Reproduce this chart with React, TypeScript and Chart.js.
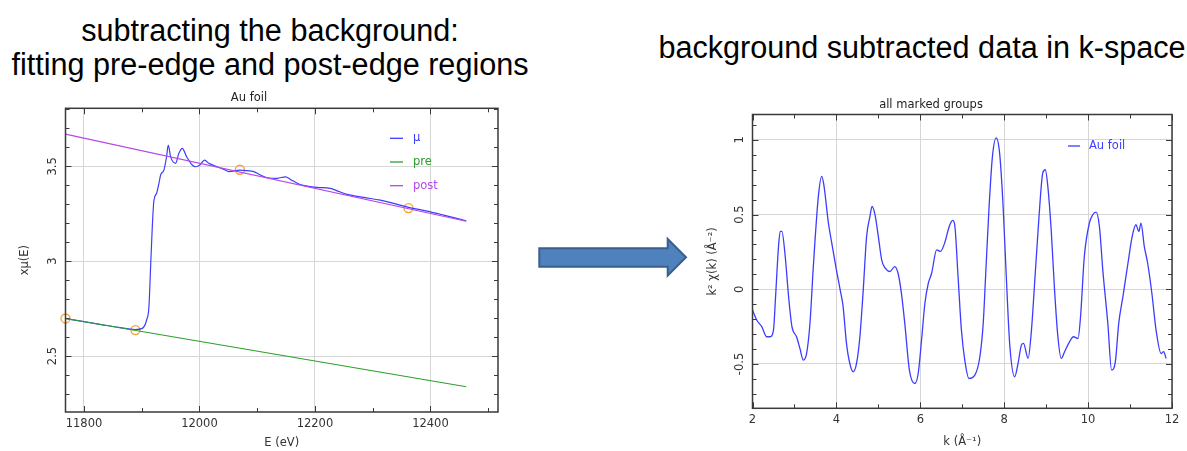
import React, { useEffect, useRef } from 'react';
import { Chart, registerables } from 'chart.js';

Chart.register(...registerables);

// ---------- Left chart data (mu(E) with pre/post-edge lines) ----------
const muE = [11768, 11800, 11830, 11860, 11889, 11901, 11908.5, 11912.5, 11915.4, 11918.3, 11921.1, 11925.8, 11929.8, 11932.7, 11938.4, 11943, 11946, 11950, 11958.6, 11964.4, 11970.2, 11977.7, 11987.5, 11993.3, 12000.7, 12008.8, 12016.3, 12030.8, 12042.3, 12051, 12070, 12082.7, 12094.1, 12105.7, 12117.3, 12134.6, 12149, 12157.6, 12172, 12186.5, 12203.8, 12226.8, 12238.4, 12255.7, 12284.5, 12313.3, 12336.3, 12362.3, 12394, 12422.8, 12462];
const muVal = [2.698, 2.681, 2.666, 2.651, 2.640, 2.646, 2.69, 2.76, 2.971, 3.18, 3.32, 3.358, 3.41, 3.454, 3.48, 3.55, 3.612, 3.551, 3.516, 3.569, 3.595, 3.551, 3.507, 3.498, 3.507, 3.533, 3.516, 3.498, 3.484, 3.472, 3.48, 3.477, 3.472, 3.454, 3.44, 3.437, 3.445, 3.431, 3.407, 3.396, 3.389, 3.384, 3.371, 3.352, 3.336, 3.322, 3.305, 3.284, 3.264, 3.243, 3.213];
const preE = [11768, 12462];
const preVal = [2.698, 2.338];
const postE = [11768, 12462];
const postVal = [3.670, 3.2105];
const markE = [11768, 11889, 12070, 12362];
const markVal = [2.698, 2.637, 3.482, 3.28];
const leftXTicks = { min: 11768, max: 12517, step: 200, minor: 100 };
const leftYTicks = { min: 2.205, max: 3.806, step: 0.5, minor: 0.1 };

// ---------- Right chart data (k^2 chi(k)) ----------
const kVals = [2.0, 2.1, 2.22, 2.34, 2.42, 2.5, 2.55, 2.62, 2.66, 2.7, 2.78, 2.86, 2.94, 3.05, 3.13, 3.21, 3.29, 3.37, 3.45, 3.57, 3.65, 3.7, 3.81, 3.89, 4.0, 4.09, 4.16, 4.24, 4.32, 4.4, 4.48, 4.56, 4.64, 4.72, 4.8, 4.85, 4.92, 5.0, 5.08, 5.2, 5.28, 5.39, 5.47, 5.55, 5.63, 5.74, 5.87, 5.95, 6.03, 6.11, 6.19, 6.27, 6.39, 6.48, 6.58, 6.69, 6.77, 6.82, 6.9, 6.98, 7.06, 7.16, 7.3, 7.42, 7.5, 7.56, 7.64, 7.72, 7.81, 7.89, 7.97, 8.05, 8.13, 8.25, 8.33, 8.41, 8.46, 8.57, 8.65, 8.72, 8.83, 8.92, 8.98, 9.04, 9.12, 9.2, 9.28, 9.36, 9.44, 9.56, 9.65, 9.76, 9.82, 9.91, 10.03, 10.11, 10.19, 10.27, 10.35, 10.47, 10.56, 10.65, 10.73, 10.83, 10.95, 11.05, 11.14, 11.21, 11.26, 11.34, 11.42, 11.52, 11.62, 11.74, 11.8, 11.86];
const chiVals = [-0.139, -0.206, -0.25, -0.318, -0.318, -0.273, -0.05, 0.286, 0.387, 0.387, 0.219, -0.049, -0.25, -0.318, -0.396, -0.474, -0.43, -0.228, 0.152, 0.622, 0.756, 0.70, 0.443, 0.309, 0.13, -0.004, -0.116, -0.362, -0.497, -0.553, -0.497, -0.318, -0.004, 0.353, 0.488, 0.555, 0.499, 0.353, 0.197, 0.13, 0.119, 0.152, 0.107, -0.027, -0.228, -0.541, -0.631, -0.564, -0.34, -0.094, 0.04, 0.107, 0.264, 0.253, 0.309, 0.42, 0.461, 0.432, 0.085, -0.273, -0.474, -0.597, -0.575, -0.452, -0.228, 0.107, 0.555, 0.89, 1.013, 0.913, 0.577, 0.085, -0.362, -0.586, -0.497, -0.374, -0.362, -0.463, -0.273, 0.018, 0.488, 0.779, 0.80, 0.689, 0.398, -0.004, -0.318, -0.463, -0.418, -0.351, -0.318, -0.329, -0.183, 0.219, 0.443, 0.499, 0.517, 0.42, 0.13, -0.228, -0.541, -0.485, -0.228, -0.049, 0.174, 0.353, 0.432, 0.387, 0.443, 0.286, 0.174, -0.027, -0.273, -0.43, -0.418, -0.463];
const rightXTicks = { min: 2, max: 12, step: 2, minor: 1 };
const rightYTicks = { min: -0.797, max: 1.17, step: 0.5, minor: 0.1 };

const FONT = 'DejaVu Sans';
const FS = 11.5;
const TXT = '#333';

const zip = (xs: number[], ys: number[]) => xs.map((x, i) => ({ x, y: ys[i] }));

function decorPlugin(xt: any, yt: any, legend: { items: { label: string; color: string }[]; fromRight: number; fromTop: number; textGap: number; lineLen: number; rowGap: number }) {
  return {
    id: 'decor',
    afterDraw(chart: any) {
      const { ctx, chartArea: a, scales } = chart;
      const xs = scales.x, ys = scales.y;
      ctx.save();
      ctx.strokeStyle = '#3a3a3a';
      ctx.lineWidth = 1;
      ctx.beginPath();
      const eps = 1e-6;
      const x0 = Math.ceil(xt.min / xt.minor - eps) * xt.minor;
      for (let v = x0; v <= xt.max + eps; v += xt.minor) {
        const isMajor = Math.abs(v / xt.step - Math.round(v / xt.step)) < 1e-6;
        const len = isMajor ? 6 : 4;
        const px = Math.round(xs.getPixelForValue(v)) + 0.5;
        ctx.moveTo(px, a.bottom); ctx.lineTo(px, a.bottom - len);
        ctx.moveTo(px, a.top); ctx.lineTo(px, a.top + len);
      }
      const y0 = Math.ceil(yt.min / yt.minor - eps) * yt.minor;
      for (let v = y0; v <= yt.max + eps; v += yt.minor) {
        const isMajor = Math.abs(v / yt.step - Math.round(v / yt.step)) < 1e-6;
        const len = isMajor ? 6 : 4;
        const py = Math.round(ys.getPixelForValue(v)) + 0.5;
        ctx.moveTo(a.left, py); ctx.lineTo(a.left + len, py);
        ctx.moveTo(a.right, py); ctx.lineTo(a.right - len, py);
      }
      ctx.stroke();
      ctx.lineWidth = 1.5;
      ctx.strokeRect(a.left, a.top, a.right - a.left, a.bottom - a.top);
      // inner legend
      ctx.font = `${FS}px "${FONT}"`;
      ctx.textBaseline = 'middle';
      ctx.textAlign = 'left';
      legend.items.forEach((it, i) => {
        const y = a.top + legend.fromTop + i * legend.rowGap;
        const lx = a.right - legend.fromRight;
        ctx.strokeStyle = it.color;
        ctx.lineWidth = 1.3;
        ctx.beginPath();
        ctx.moveTo(lx, y); ctx.lineTo(lx + legend.lineLen, y);
        ctx.stroke();
        ctx.fillStyle = it.color;
        ctx.fillText(it.label, lx + legend.textGap, y);
      });
      ctx.restore();
    },
  };
}

const fmt = (v: any) => String(Math.round(Number(v) * 1000) / 1000);

function LeftChart() {
  const ref = useRef<HTMLCanvasElement>(null);
  useEffect(() => {
    const blue = '#3c3cff', green = '#2ca02c', purple = '#b548e8';
    const chart = new Chart(ref.current!, {
      type: 'scatter',
      data: {
        datasets: [
          { label: 'pre', data: zip(preE, preVal), showLine: true, borderColor: green, borderWidth: 1.2, pointRadius: 0 },
          { label: 'post', data: zip(postE, postVal), showLine: true, borderColor: purple, borderWidth: 1.2, pointRadius: 0 },
          { label: 'μ', data: zip(muE, muVal), showLine: true, borderColor: blue, borderWidth: 1.2, pointRadius: 0, cubicInterpolationMode: 'monotone' },
          { label: 'markers', data: zip(markE, markVal), showLine: false, clip: false, pointRadius: 4.5, pointBorderColor: '#f4a22c', pointBackgroundColor: 'rgba(0,0,0,0)', pointBorderWidth: 1.3 },
        ],
      },
      options: {
        animation: false,
        responsive: false,
        devicePixelRatio: 1,
        layout: { padding: { left: 0, right: 7, top: 0, bottom: 0 } },
        plugins: {
          legend: { display: false },
          tooltip: { enabled: false },
          title: { display: true, text: 'Au foil', color: '#222', font: { family: FONT, size: FS, weight: 'normal' }, padding: { top: 3.1, bottom: 3.4 } },
        },
        scales: {
          x: {
            type: 'linear', min: leftXTicks.min, max: leftXTicks.max,
            afterFit: (s: any) => { s.height = 39; },
            border: { display: false },
            grid: { color: '#d6d6d6', drawTicks: false },
            ticks: { stepSize: leftXTicks.step, includeBounds: false, padding: 5.2, color: TXT, font: { family: FONT, size: FS }, maxRotation: 0, callback: fmt },
            title: { display: true, text: 'E (eV)', color: TXT, font: { family: FONT, size: FS }, padding: { top: 0, bottom: 0.6 } },
          },
          y: {
            type: 'linear', min: leftYTicks.min, max: leftYTicks.max,
            afterFit: (s: any) => { s.width = 65.5; },
            border: { display: false },
            grid: { color: '#d6d6d6', drawTicks: false },
            ticks: { stepSize: leftYTicks.step, includeBounds: false, padding: 3.0, minRotation: 90, maxRotation: 90, crossAlign: 'center', color: TXT, font: { family: FONT, size: FS }, callback: fmt },
            title: { display: true, text: 'xμ(E)', color: TXT, font: { family: FONT, size: FS }, padding: { top: 18.1, bottom: 0 } },
          },
        },
      } as any,
      plugins: [decorPlugin(leftXTicks, leftYTicks, {
        items: [{ label: 'μ', color: blue }, { label: 'pre', color: green }, { label: 'post', color: purple }],
        fromRight: 108, fromTop: 30, textGap: 23, lineLen: 13, rowGap: 23.7,
      })],
    });
    return () => chart.destroy();
  }, []);
  return <canvas ref={ref} width={505} height={363} style={{ position: 'absolute', left: 0, top: 88, width: 505, height: 363 }} />;
}

function RightChart() {
  const ref = useRef<HTMLCanvasElement>(null);
  useEffect(() => {
    const blue = '#3c3cff';
    const chart = new Chart(ref.current!, {
      type: 'scatter',
      data: {
        datasets: [
          { label: 'Au foil', data: zip(kVals, chiVals), showLine: true, borderColor: blue, borderWidth: 1.3, pointRadius: 0, cubicInterpolationMode: 'monotone' },
        ],
      },
      options: {
        animation: false,
        responsive: false,
        devicePixelRatio: 1,
        layout: { padding: { left: 0, right: 15, top: 0, bottom: 0 } },
        plugins: {
          legend: { display: false },
          tooltip: { enabled: false },
          title: { display: true, text: 'all marked groups', color: '#222', font: { family: FONT, size: FS, weight: 'normal' }, padding: { top: 6.1, bottom: 2.6 } },
        },
        scales: {
          x: {
            type: 'linear', min: rightXTicks.min, max: rightXTicks.max,
            afterFit: (s: any) => { s.height = 42.7; },
            border: { display: false },
            grid: { color: '#d6d6d6', drawTicks: false },
            ticks: { stepSize: rightXTicks.step, padding: 4.7, color: TXT, font: { family: FONT, size: FS }, maxRotation: 0, callback: fmt },
            title: { display: true, text: 'k (Å⁻¹)', color: TXT, font: { family: FONT, size: FS }, padding: { top: 0, bottom: 2.4 } },
          },
          y: {
            type: 'linear', min: rightYTicks.min, max: rightYTicks.max,
            afterFit: (s: any) => { s.width = 62.5; },
            border: { display: false },
            grid: { color: '#d6d6d6', drawTicks: false },
            ticks: { stepSize: rightYTicks.step, includeBounds: false, padding: 1.25, minRotation: 90, maxRotation: 90, crossAlign: 'center', color: TXT, font: { family: FONT, size: FS }, callback: fmt },
            title: { display: true, text: 'k² χ(k) (Å⁻²)', color: TXT, font: { family: FONT, size: FS }, padding: { top: 16.1, bottom: 0 } },
          },
        },
      } as any,
      plugins: [decorPlugin(rightXTicks, rightYTicks, {
        items: [{ label: 'Au foil', color: blue }],
        fromRight: 104, fromTop: 31.5, textGap: 21, lineLen: 12, rowGap: 24,
      })],
    });
    return () => chart.destroy();
  }, []);
  return <canvas ref={ref} width={497} height={359} style={{ position: 'absolute', left: 690, top: 92, width: 497, height: 359 }} />;
}

export default function App() {
  const titleStyle: React.CSSProperties = {
    position: 'absolute', fontFamily: '"Liberation Sans", Arial, sans-serif', fontSize: 30.6, lineHeight: '34px',
    color: '#000', textAlign: 'center', whiteSpace: 'nowrap',
  };
  return (
    <div style={{ position: 'fixed', left: 0, top: 0, width: 1187, height: 451, background: '#fff', overflow: 'hidden' }}>
      <div style={{ ...titleStyle, left: 0, width: 540, top: 13 }}>
        subtracting the background:<br />fitting pre-edge and post-edge regions
      </div>
      <div style={{ ...titleStyle, left: 652, width: 540, top: 30 }}>
        background subtracted data in k-space
      </div>
      <svg width={1187} height={451} style={{ position: 'absolute', left: 0, top: 0, pointerEvents: 'none' }}>
        <polygon points="539.3,248.3 667.7,248.3 667.7,239 686,257.3 667.7,275.7 667.7,266.7 539.3,266.7" fill="#4f81bd" stroke="#3a5f8f" strokeWidth={2} />
      </svg>
      <LeftChart />
      <RightChart />
    </div>
  );
}
